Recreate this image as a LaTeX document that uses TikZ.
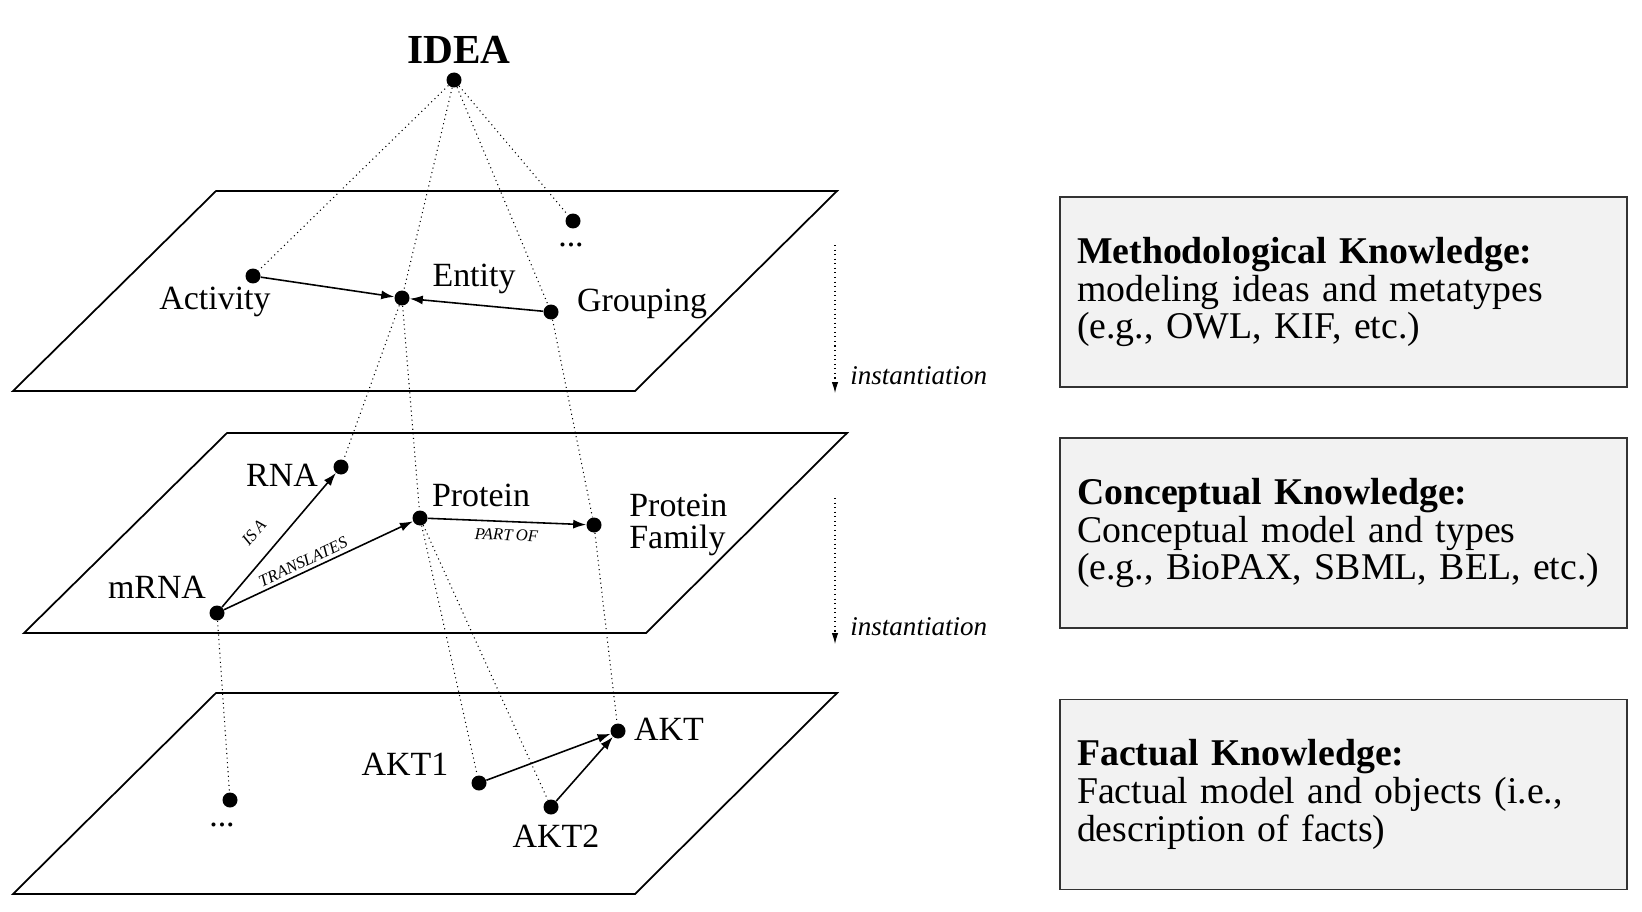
\documentclass[tikz,border=0pt]{standalone}
\usepackage{fontspec}
\setmainfont[WordSpace=0.8]{Liberation Serif}
\usepackage{tikz}
\usetikzlibrary{arrows.meta}
\usetikzlibrary{positioning}
\tikzstyle{vert}=[circle,fill=black,inner sep=0pt,minimum size=0.3cm]
\tikzstyle{lab}=[inner sep=0pt,font=\fontsize{19.3}{18.1}\selectfont]
\tikzstyle{plane}=[draw,line width=1pt]
\tikzstyle{rel}=[draw,line width=0.9pt,-{Latex[length=2.6mm,width=1.8mm]}]
\tikzstyle{rellab}=[font=\fontsize{9.5}{11}\selectfont\itshape,inner sep=2pt]
\tikzstyle{inst}=[draw,dotted,line width=0.6pt]
\tikzstyle{instlab}=[font=\fontsize{15.4}{17}\selectfont\itshape,inner sep=0pt,anchor=west]
\tikzstyle{lvl}=[draw=black!80,fill=black!5,line width=0.8pt,rectangle,
  minimum width=11.34cm,minimum height=3.8cm,text width=10.66cm,inner xsep=0.34cm,
  align=left,font=\fontsize{21.5}{21.4}\selectfont]

\begin{document}
\begin{tikzpicture}[x=0.02cm,y=-0.02cm]
\useasboundingbox (0,0) rectangle (1642,912);

% % % planes
	\draw[plane] (216,191) -- (837,191) -- (635,391) -- (13,391) -- cycle;
	\draw[plane] (227,433) -- (847,433) -- (646,633) -- (24,633) -- cycle;
	\draw[plane] (216,693) -- (837,693) -- (635,894) -- (13,894) -- cycle;

% % % idea
	\node[vert] (idea) at (454,80) {};
	\node[font=\fontsize{23.5}{25}\selectfont\bfseries,inner sep=0pt] (ideal) at (459,50) {IDEA};

% % % methodological
	\node[vert] (act) at (253,276) {};
	\node[vert] (ent) at (402,298) {};
	\node[vert] (grp) at (551,312) {};
	\node[vert] (etc1) at (573,221) {};

	\node[lab] (actl) at (215,302) {Activity};
	\node[lab] (entl) at (474,279) {Entity};
	\node[lab] (grpl) at (642,304) {Grouping};
	\node[lab] (etc1l) at (571,245) {...};

	\path[rel] (act) -- (ent);
	\path[rel] (grp) -- (ent);

% % % conceptual
	\node[vert] (rna) at (341,467) {};
	\node[vert] (prot) at (420,518) {};
	\node[vert] (pfam) at (594,525) {};
	\node[vert] (mrna) at (217,613) {};

	\node[lab] (rnal) at (282,475) {RNA};
	\node[lab] (protl) at (481,495) {Protein};
	\node[lab,align=left,anchor=west] (pfaml) at (629,525) {Protein\\Family};
	\node[lab] (mrnal) at (157,587) {mRNA};

	\path[rel] (mrna) edge
	node [rellab, pos=0.44, above=8pt, sloped] {IS A} (rna);
	\path[rel] (mrna) edge
	node [rellab, pos=0.44, above, sloped] {TRANSLATES} (prot);
	\path[rel] (prot) edge
	node [rellab, midway, below=2pt, sloped] {PART OF} (pfam);

% % % factual
	\node[vert] (akt) at (618,731) {};
	\node[vert] (akt1) at (479,783) {};
	\node[vert] (akt2) at (551,807) {};
	\node[vert] (etc2) at (230,800) {};

	\node[lab] (aktl) at (669,729) {AKT};
	\node[lab] (akt1l) at (405,764) {AKT1};
	\node[lab] (akt2l) at (556,836) {AKT2};
	\node[lab] (etc2l) at (222,825) {...};

	\path[rel] (akt1) -- (akt);
	\path[rel] (akt2) -- (akt);

% % % instances
	\path[inst] (idea) edge (act);
	\path[inst] (idea) edge (ent);
	\path[inst] (idea) edge (grp);
	\path[inst] (idea) edge (etc1);
	\path[inst] (ent) edge (rna);
	\path[inst] (ent) edge (prot);
	\path[inst] (grp) edge (pfam);
	\path[inst] (mrna) edge (etc2);
	\path[inst] (prot) edge (akt1);
	\path[inst] (prot) edge (akt2);
	\path[inst] (pfam) edge (akt);

	\coordinate (i1a) at (835,245);
	\coordinate (i1b) at (835,393);
	\coordinate (i2a) at (835,498);
	\coordinate (i2b) at (835,644);
	\path[inst,-{Latex[length=2.2mm,width=1.3mm]}] (i1a) -- (i1b);
	\path[inst,-{Latex[length=2.2mm,width=1.3mm]}] (i2a) -- (i2b);
	\node[instlab] (i1l) at (850,376) {instantiation};
	\node[instlab] (i2l) at (850,627) {instantiation};

% % % levels
	\node[lvl] (meth) at (1343.5,292) {\textbf{Methodological Knowledge:}\\modeling ideas and metatypes\\(e.g., OWL, KIF, etc.)};
	\node[lvl] (conc) at (1343.5,533) {\textbf{Conceptual Knowledge:}\\Conceptual model and types\\(e.g., BioPAX, SBML, BEL, etc.)};
	\node[lvl] (fact) at (1343.5,794.5) {\textbf{Factual Knowledge:}\\Factual model and objects (i.e.,\\description of facts)};

\end{tikzpicture}
\end{document}
